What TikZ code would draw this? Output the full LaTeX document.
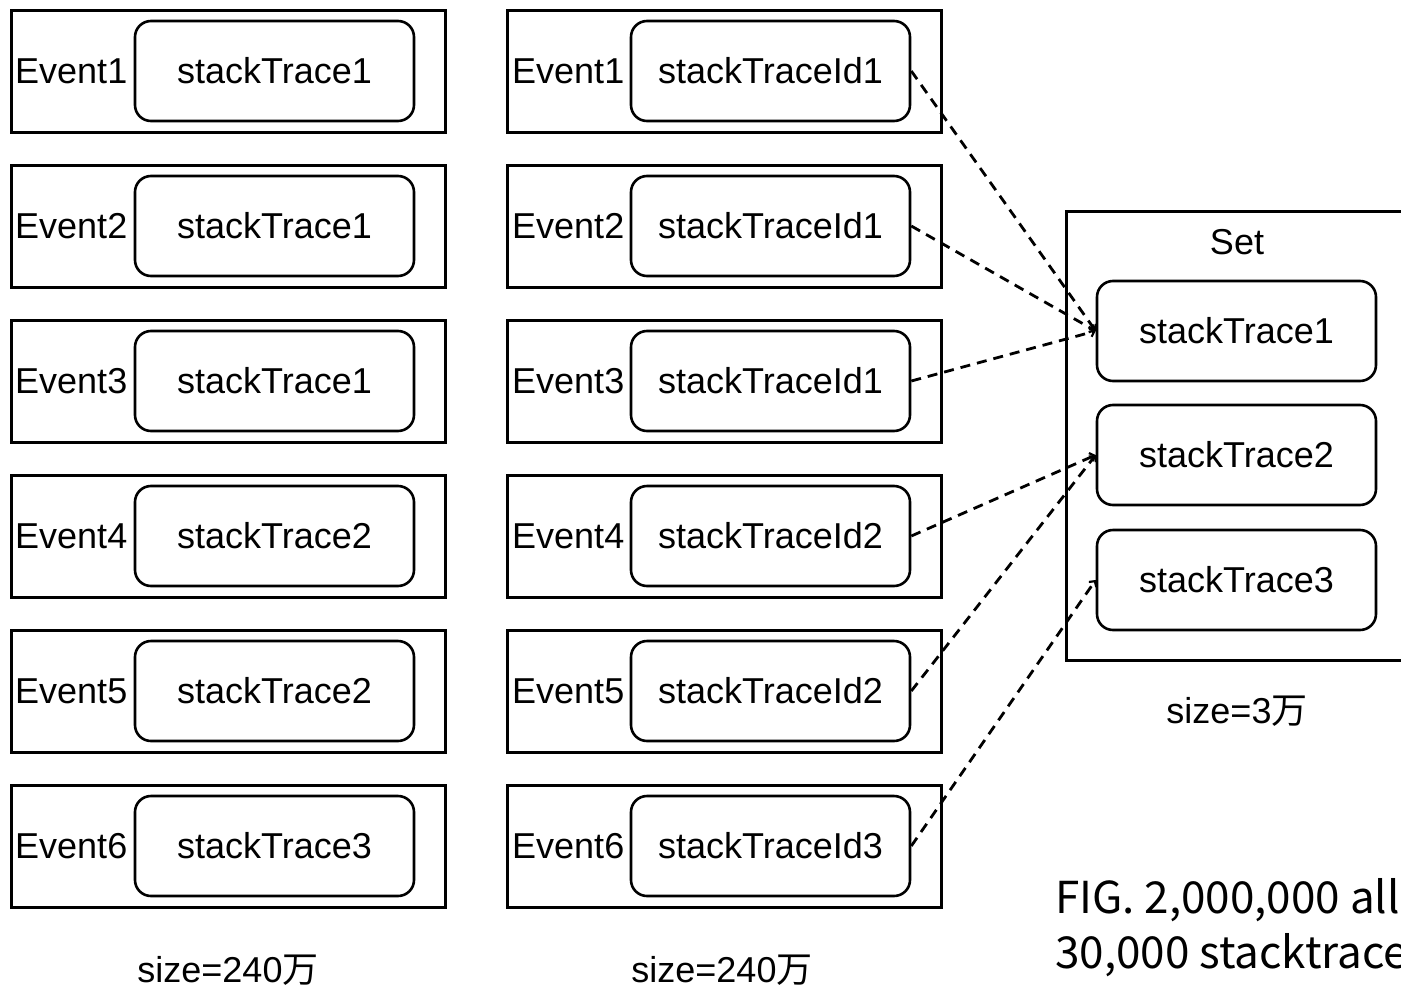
\documentclass[tikz,border=0pt]{standalone}
\usepackage{fontspec}
\setmainfont{Liberation Sans}
\newfontfamily\cjkfont{Noto Sans CJK SC}
\usetikzlibrary{arrows.meta}
\begin{document}
\begin{tikzpicture}[x=1pt,y=-1pt,
  outerbox/.style={draw, line width=3pt, minimum width=434pt, minimum height=122pt, inner sep=0pt},
  innerbox/.style={draw, rounded corners=16pt, line width=2.6pt, minimum width=279pt, minimum height=100pt, inner sep=0pt, font=\fontsize{36}{40}\selectfont},
  lbl/.style={font=\fontsize{36}{40}\selectfont, inner sep=0pt},
  caption/.style={font=\cjkfont\fontsize{44}{55}\selectfont, inner sep=0pt, anchor=base west},
  link/.style={line width=2.8pt, dash pattern=on 10pt off 7pt, -{Straight Barb[length=4pt,width=9pt,line width=2.2pt]}}
]
\useasboundingbox (0,0) rectangle (1401,988);
\clip (0,0) rectangle (1401,988);
\fill[white] (0,0) rectangle (1401,988);

% left column: events holding full stack traces
\foreach \i/\t in {1/1,2/1,3/1,4/2,5/2,6/3}{
  \pgfmathsetmacro{\yy}{71+155*(\i-1)}
  \node[outerbox] (ea\i) at (228,\yy) {};
  \node[lbl, anchor=west] (la\i) at (15,\yy) {Event\i};
  \node[innerbox] (sa\i) at (274.5,\yy) {stackTrace\t};
}

% middle column: events holding stack trace ids
\foreach \i/\t in {1/1,2/1,3/1,4/2,5/2,6/3}{
  \pgfmathsetmacro{\yy}{71+155*(\i-1)}
  \node[outerbox] (eb\i) at (724,\yy) {};
  \node[lbl, anchor=west] (lb\i) at (512,\yy) {Event\i};
  \node[innerbox] (id\i) at (770.5,\yy) {stackTraceId\t};
}

% the set of distinct stack traces
\node[draw, line width=3pt, minimum width=364pt, minimum height=449pt, inner sep=0pt] (set) at (1248,435.5) {};
\node[lbl] (settitle) at (1237,242) {Set};
\node[innerbox] (st1) at (1236.5,331) {stackTrace1};
\node[innerbox] (st2) at (1236.5,455) {stackTrace2};
\node[innerbox] (st3) at (1236.5,580) {stackTrace3};

% id references into the set
\draw[link] (id1.east) -- (st1.west);
\draw[link] (id2.east) -- (st1.west);
\draw[link] (id3.east) -- (st1.west);
\draw[link] (id4.east) -- (st2.west);
\draw[link] (id5.east) -- (st2.west);
\draw[link] (id6.east) -- (st3.west);

% sizes
\node[lbl] (sizea) at (228,970) {size=240{\cjkfont 万}};
\node[lbl] (sizeb) at (722,970) {size=240{\cjkfont 万}};
\node[lbl] (sizes) at (1237,711) {size=3{\cjkfont 万}};

% caption
\node[caption] (cap1) at (1055,913) {FIG. 2,000,000 all};
\node[caption] (cap2) at (1055,968) {30,000 stacktrace};
\end{tikzpicture}
\end{document}
